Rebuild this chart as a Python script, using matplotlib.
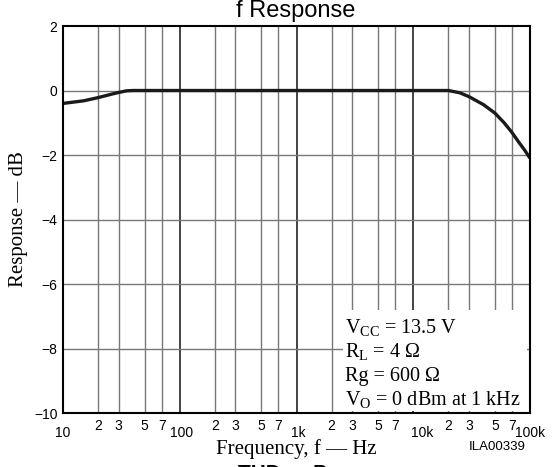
import numpy as np
import matplotlib
matplotlib.use("Agg")
import matplotlib.pyplot as plt
from matplotlib.transforms import ScaledTranslation
from matplotlib.patches import Rectangle

# Data
freq = [10, 15, 20, 25, 30, 35, 40, 50, 100, 1000, 10000, 15000, 20000,
        25000, 30000, 40000, 50000, 60000, 70000, 80000, 90000, 100000]
response = [-0.40, -0.32, -0.22, -0.13, -0.06, -0.01, 0.0, 0.0, 0.0, 0.0, 0.0, 0.0, 0.0,
            -0.07, -0.19, -0.44, -0.70, -1.00, -1.30, -1.60, -1.85, -2.10]

decades = [10, 100, 1000, 10000, 100000]
decade_labels = ["10", "100", "1k", "10k", "100k"]
minor_mult = [2, 3, 5, 7]
yticks = [2, 0, -2, -4, -6, -8, -10]
ytick_labels = ["2", "0", "\u22122", "\u22124", "\u22126", "\u22128", "\u221210"]
notes = [r"V$_{\mathrm{CC}}$ = 13.5 V", r"R$_{\mathrm{L}}$ = 4 Ω",
         "Rg = 600 Ω", r"V$_{\mathrm{O}}$ = 0 dBm at 1 kHz"]

plt.rcParams['font.family'] = ['Liberation Sans', 'DejaVu Sans']
plt.rcParams['mathtext.fontset'] = 'custom'
plt.rcParams['mathtext.rm'] = 'Liberation Serif'
serif = ['Liberation Serif', 'DejaVu Serif']

fig = plt.figure(figsize=(5.55, 4.67), dpi=100)
ax = fig.add_axes([0.1135, 0.1156, 0.8415, 0.8287])
ax.set_xscale('log')
ax.set_xlim(10, 100000)
ax.set_ylim(-10, 2)

# grid
minors = [d * m for d in decades[:-1] for m in minor_mult]
for x in minors:
    ax.axvline(x, color='#777777', lw=1.0, zorder=1)
for x in decades[1:-1]:
    ax.axvline(x, color='#222222', lw=1.2, zorder=1)
for y in yticks[1:-1]:
    ax.axhline(y, color='#777777', lw=1.0, zorder=1)

# note box covers grid
ax.add_patch(Rectangle((0.6, 0.004), 0.393, 0.262, transform=ax.transAxes,
                       facecolor='white', edgecolor='none', zorder=2))
for i, s in enumerate(notes):
    ax.text(0.603, 0.22 - i * 0.0625, s, transform=ax.transAxes, fontsize=14.5,
            family=serif, va='center', ha='left', zorder=3)

ax.plot(freq, response, color='#1a1a1a', lw=2.4, zorder=4, solid_capstyle='butt')

# ticks
ax.set_xticks(decades)
ax.set_xticklabels(decade_labels)
ax.set_xticks(minors, minor=True)
ax.set_xticklabels([str(m) for d in decades[:-1] for m in minor_mult], minor=True)
ax.tick_params(axis='x', which='both', length=0, labelsize=10)
ax.tick_params(axis='x', which='major', pad=9)
ax.tick_params(axis='x', which='minor', pad=4)
shifts = [0, 2, 2, 9, 0]
for lab, dx in zip(ax.get_xticklabels(), shifts):
    lab.set_transform(lab.get_transform() + ScaledTranslation(dx / 100, 0, fig.dpi_scale_trans))
ax.set_yticks(yticks)
ax.set_yticklabels(ytick_labels)
ax.tick_params(axis='y', length=0, labelsize=10, pad=4)

for sp in ax.spines.values():
    sp.set_linewidth(1.5)
    sp.set_zorder(5)

ax.set_xlabel("Frequency, f \u2014 Hz", family=serif, fontsize=15, labelpad=0)
ax.set_ylabel("Response \u2014 dB", family=serif, fontsize=15, va='center')
ax.yaxis.set_label_coords(-0.096, 0.5)
fig.text(0.532, 1 - 17 / 467, "f Response", fontsize=17, ha='center', va='baseline')
fig.text(0.895, 0.043, "ILA00339", fontsize=9.5, ha='center', va='center')
fig.text(0.52, -0.035, "THD \u2014 Po", fontsize=15, fontweight='bold', ha='center', va='bottom')

fig.savefig("out.png", dpi=100)
